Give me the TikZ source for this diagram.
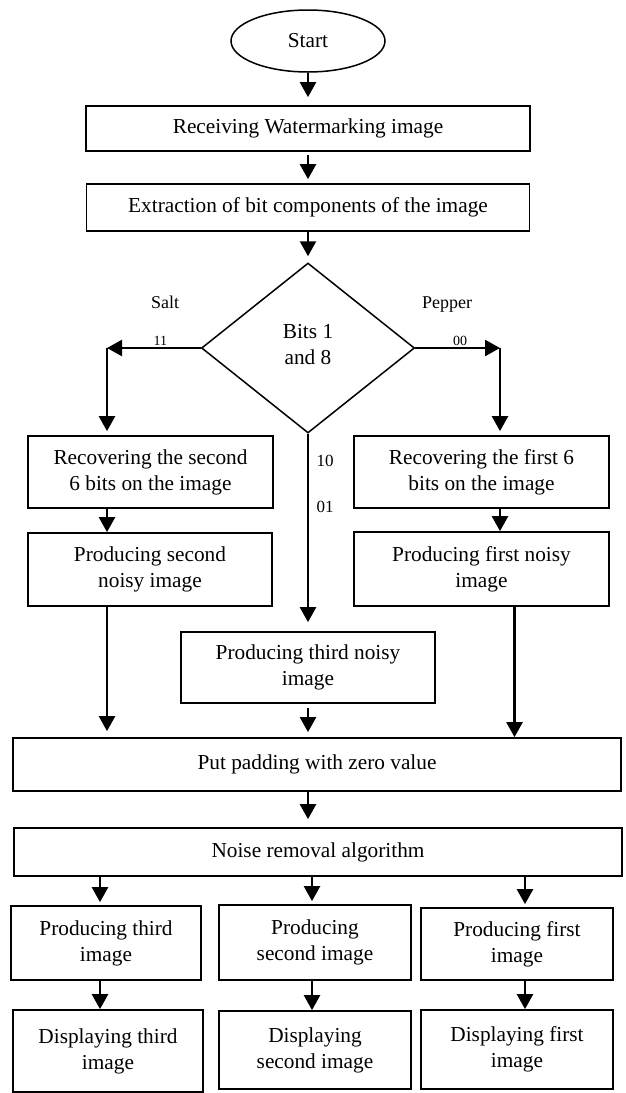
\documentclass[tikz,border=0pt]{standalone}
\usepackage{fontspec}
\setmainfont{Liberation Serif}
\usetikzlibrary{arrows.meta,shapes.geometric,positioning}

\begin{document}
\begin{tikzpicture}[x=1pt,y=-1pt]
  \tikzset{
    ->,
    >={Triangle[width=16pt,length=15pt]},
    every edge/.append style={line width=2.4pt},
    box/.style={draw,rectangle,line width=1.7pt,inner sep=0pt,align=center,
      font=\fontsize{21.3}{26}\selectfont},
    decision/.style={box,diamond,line width=1.5pt,minimum width=213pt,minimum height=170pt},
    terminal/.style={box,ellipse,line width=1.5pt,minimum width=154pt,minimum height=62pt},
    tag/.style={font=\fontsize{18}{20}\selectfont,inner sep=0pt},
    bitlab/.style={font=\fontsize{14}{16}\selectfont,inner sep=1.5pt},
    branch/.style={font=\fontsize{17}{19}\selectfont},
  }
  \useasboundingbox (0,0) rectangle (625,1093);

  \node [terminal] (start) at (308,41)    {Start};
  \node [box,minimum width=444pt,minimum height=45pt] (recv) at (308,128.5)
        {Receiving Watermarking image};
  \node [box,minimum width=443pt,minimum height=47pt] (extr) at (308,207.5)
        {Extraction of bit components of the image};
  \node [decision] (bits) at (308,348) {Bits 1\\and 8\\[-18pt]};
  \node [tag] (salt)   at (165,302) {Salt};
  \node [tag] (pepper) at (447,305) {Pepper};
  \coordinate (lturn) at (107,348);
  \coordinate (rturn) at (500,348);

  \node [box,minimum width=245pt,minimum height=72pt] (rec2) at (150.5,472)
        {Recovering the second\\6 bits on the image};
  \node [box,minimum width=255pt,minimum height=72pt] (rec1) at (481.5,472)
        {Recovering the first 6\\bits on the image};
  \node [box,minimum width=244pt,minimum height=73pt] (noisy2) at (150,569.5)
        {Producing second\\noisy image};
  \node [box,minimum width=255pt,minimum height=74pt] (noisy1) at (481.5,569)
        {Producing first noisy\\image};
  \node [box,minimum width=254pt,minimum height=71pt] (noisy3) at (308,667.5)
        {Producing third noisy\\image};
  \coordinate (rdrop) at ([xshift=33pt]noisy1.south);

  \node [box,minimum width=608pt,minimum height=53pt] (pad) at (317,764.5)
        {Put padding with zero value};
  \node [box,minimum width=608pt,minimum height=48pt] (noise) at (318,852)
        {Noise removal algorithm};

  \node [box,minimum width=190pt,minimum height=74pt] (prod3) at (106,943)
        {Producing third\\image};
  \node [box,minimum width=192pt,minimum height=75pt] (prod2) at (315,942.5)
        {Producing\\second image};
  \node [box,minimum width=192pt,minimum height=72pt] (prod1) at (517,944)
        {Producing first\\image};
  \node [box,minimum width=190pt,minimum height=82pt] (disp3) at (108,1051)
        {Displaying third\\image};
  \node [box,minimum width=192pt,minimum height=78pt] (disp2) at (315,1050)
        {Displaying\\second image};
  \node [box,minimum width=192pt,minimum height=79pt] (disp1) at (517,1049.5)
        {Displaying first\\image};
  \coordinate (col3) at (100,0);
  \coordinate (col2) at (312,0);
  \coordinate (col1) at (525,0);

  \path
  (start) edge[shorten >=8pt] (recv)
  (recv)  edge[shorten <=3pt,shorten >=4pt] (extr)
  (extr)  edge[shorten >=6pt] (bits)
  (bits.west) edge node[bitlab,pos=0.43,above]{11} (lturn)
  (bits.east) edge node[bitlab,pos=0.53,above]{00} (rturn)
  (lturn) edge[shorten >=4pt] (lturn |- rec2.north)
  (rturn) edge[shorten >=4pt] (rturn |- rec1.north)
  (bits.south) edge[shorten >=9pt]
      node[branch,pos=0.14,right=4pt]{10}
      node[branch,pos=0.37,right=4pt]{01} (noisy3)
  (lturn |- rec2.south) edge (lturn |- noisy2.north)
  (rturn |- rec1.south) edge (rturn |- noisy1.north)
  (lturn |- noisy2.south) edge[shorten >=6pt] (lturn |- pad.north)
  (noisy3) edge[shorten <=4pt,shorten >=5pt] (noisy3 |- pad.north)
  (rdrop) edge (rdrop |- pad.north)
  (bits |- pad.south) edge[shorten >=8pt] (bits |- noise.north);

  \foreach \c in {3,2,1}
    \path (col\c |- noise.south) edge[shorten >=3pt] (col\c |- prod\c.north)
          (col\c |- prod\c.south) edge (col\c |- disp\c.north);
\end{tikzpicture}
\end{document}
